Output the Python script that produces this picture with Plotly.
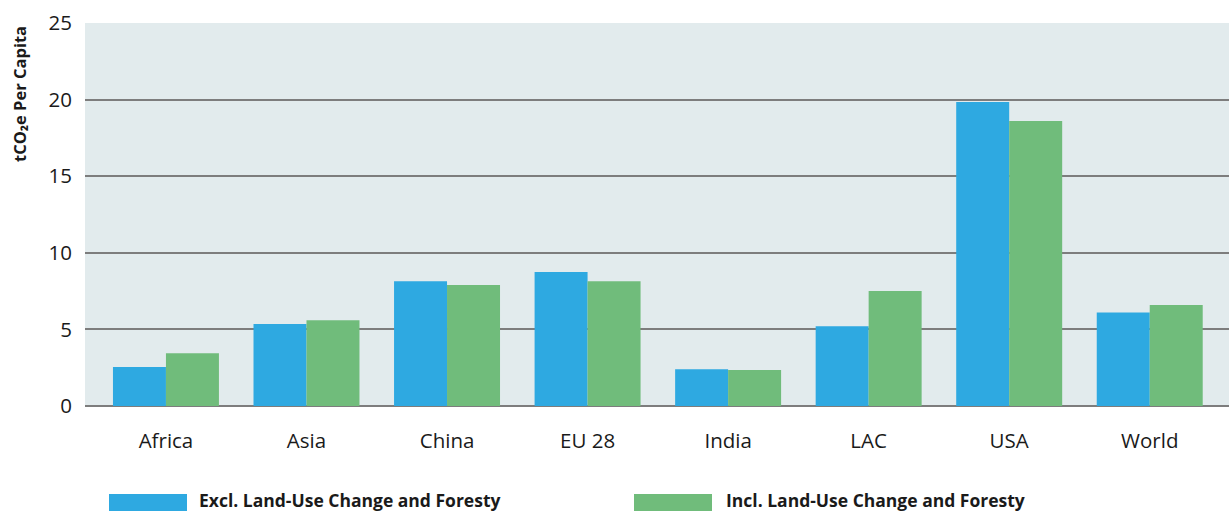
import plotly.graph_objects as go

regions = ["Africa", "Asia", "China", "EU 28", "India", "LAC", "USA", "World"]
excl_lucf = [2.55, 5.35, 8.15, 8.75, 2.4, 5.2, 19.85, 6.1]
incl_lucf = [3.45, 5.6, 7.9, 8.15, 2.35, 7.5, 18.6, 6.6]
series_names = ["Excl. Land-Use Change and Foresty", "Incl. Land-Use Change and Foresty"]
y_ticks = [0, 5, 10, 15, 20, 25]
y_title = "tCO\u2082e Per Capita"

BLUE = "#2ea9e1"
GREEN = "#70bc7b"
FONT = "'Open Sans', sans-serif"

W, H = 1229, 511
L, R, T, B = 85, 0, 23, 105
pw = W - L - R
ph = H - T - B

def px(x):
    return (x - L) / pw

def py(y):
    return (H - B - y) / ph

fig = go.Figure()
fig.add_trace(go.Bar(x=regions, y=excl_lucf, name=series_names[0], marker_color=BLUE,
                     marker_line_width=0, showlegend=False))
fig.add_trace(go.Bar(x=regions, y=incl_lucf, name=series_names[1], marker_color=GREEN,
                     marker_line_width=0, showlegend=False))

fig.update_layout(
    width=W, height=H,
    margin=dict(l=L, r=R, t=T, b=B, pad=0),
    paper_bgcolor="white",
    plot_bgcolor="#e2ebed",
    barmode="group",
    bargap=0.246,
    bargroupgap=0,
    font=dict(family=FONT, color="#1a1a1a"),
    xaxis=dict(
        type="category",
        range=[-0.576, 7.564],
        showgrid=False, showline=False, zeroline=False,
        ticks="", tickfont=dict(size=20.5, color="#1a1a1a"),
        ticklabelstandoff=20,
    ),
    yaxis=dict(
        range=[0, 25], tickvals=y_ticks,
        showgrid=True, gridcolor="#7d7d7d", gridwidth=1.5,
        zeroline=True, zerolinecolor="#7d7d7d", zerolinewidth=2,
        showline=False, ticks="",
        tickfont=dict(size=20.5, color="#1a1a1a"),
        ticklabelstandoff=12,
    ),
)

# y-axis title (rotated, top-aligned as in reference)
fig.add_annotation(text="<b>" + y_title + "</b>", xref="paper", yref="paper",
                   x=px(19), y=py(94), xanchor="center", yanchor="middle",
                   textangle=-90, showarrow=False, borderpad=0,
                   font=dict(size=16.5, family=FONT, color="#1a1a1a"))

# custom legend with wide swatches
legend_items = [(109, 187, 198, series_names[0], BLUE), (634, 712, 725, series_names[1], GREEN)]
for x0, x1, tx, name, col in legend_items:
    fig.add_shape(type="rect", xref="paper", yref="paper",
                  x0=px(x0), x1=px(x1), y0=py(511), y1=py(494),
                  fillcolor=col, line_width=0, layer="above")
    fig.add_annotation(text="<b>" + name + "</b>", xref="paper", yref="paper",
                       x=px(tx), y=py(499.5), xanchor="left", yanchor="middle",
                       showarrow=False, borderpad=0,
                       font=dict(size=17.5, family=FONT, color="#1a1a1a"))

fig.write_html("out.html",
               config={"displayModeBar": False},
               post_script="document.documentElement.style.margin='0';"
                           "document.body.style.margin='0';"
                           "document.body.style.overflow='hidden';")
